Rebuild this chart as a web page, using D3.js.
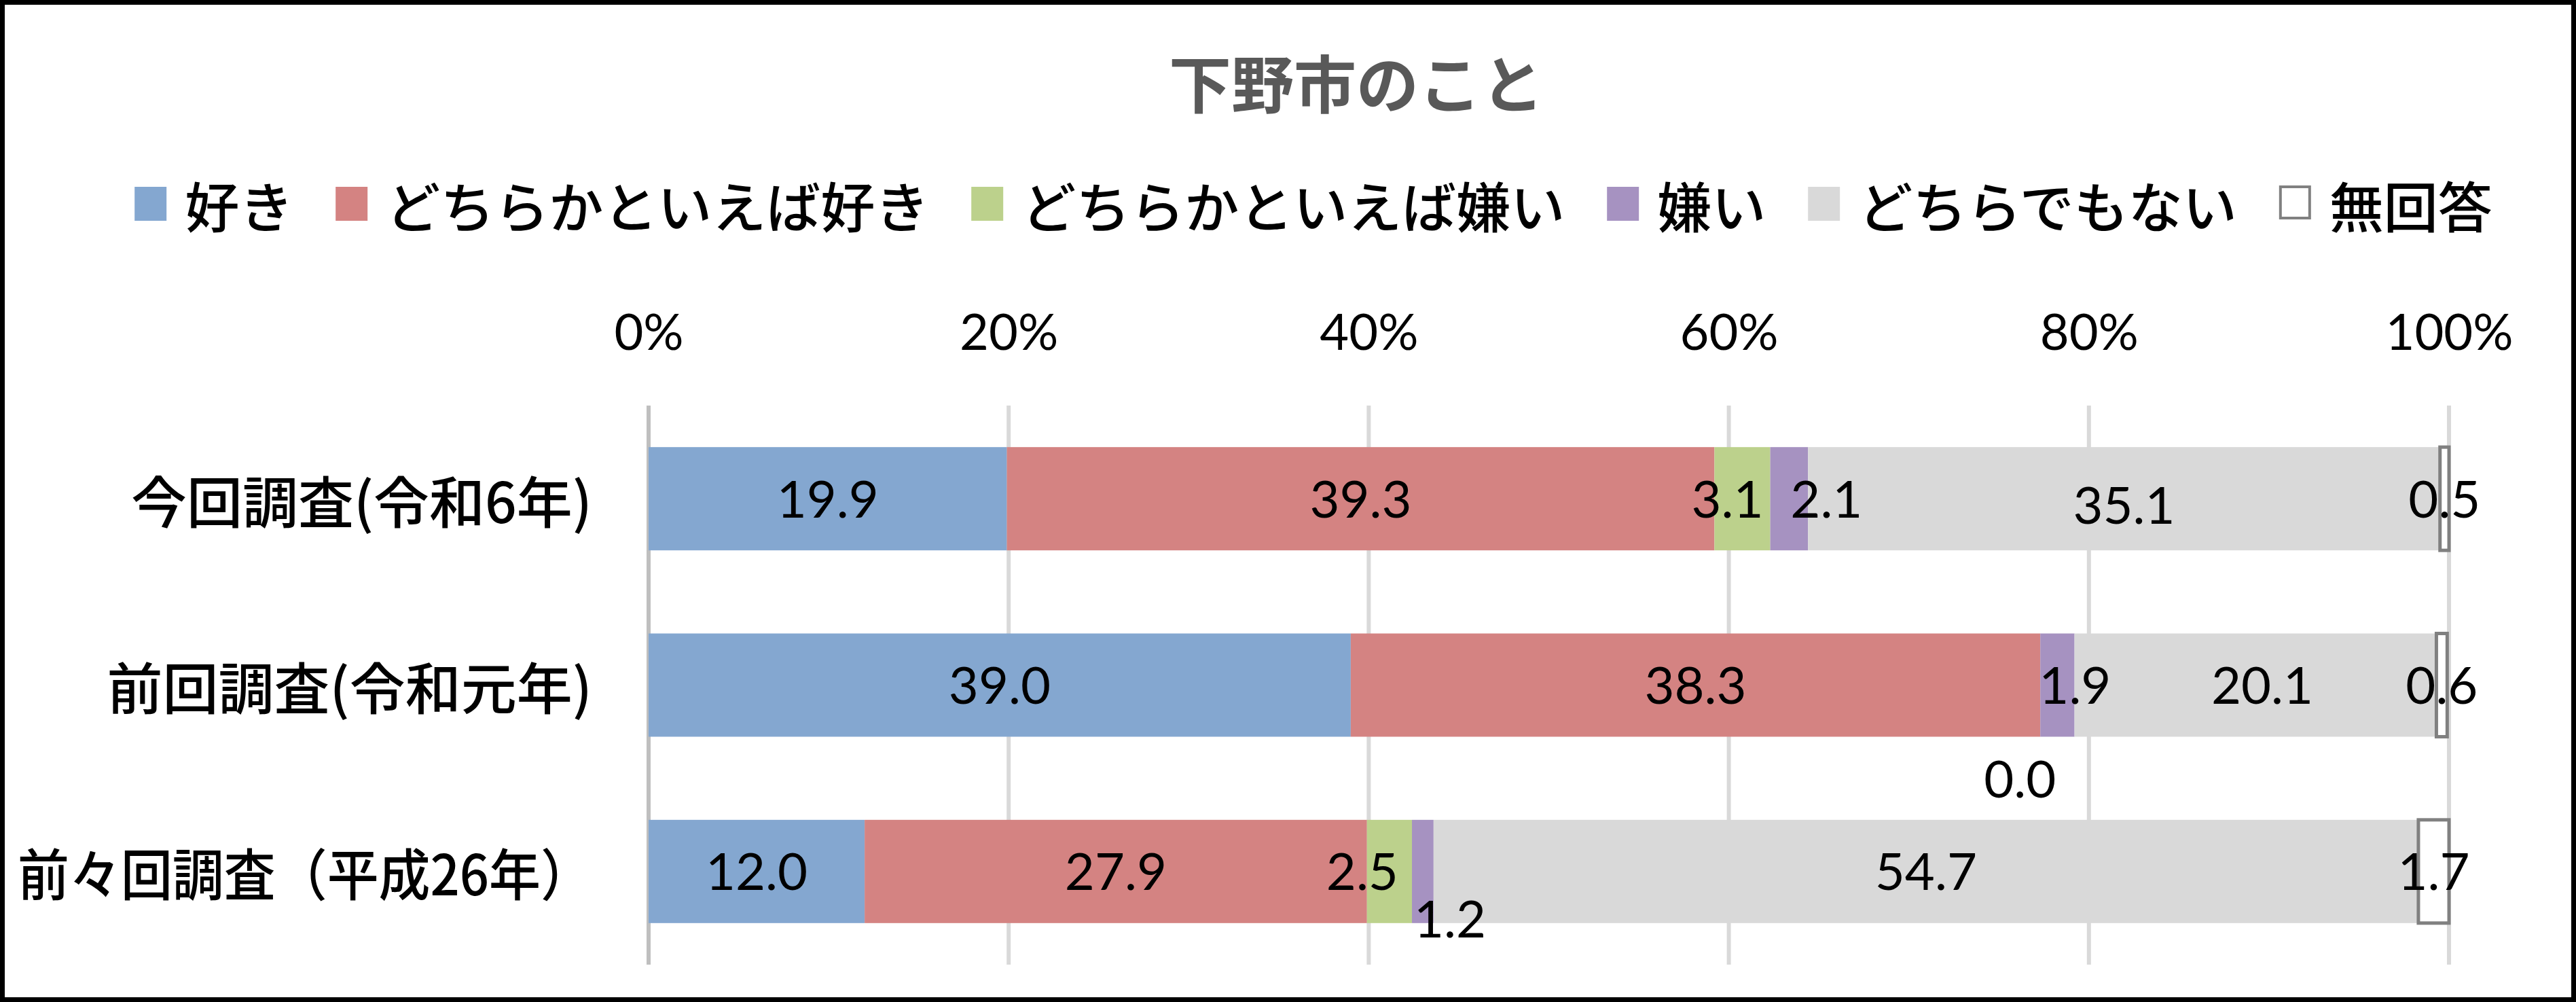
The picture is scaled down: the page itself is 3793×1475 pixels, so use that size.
<!DOCTYPE html>
<html>
<head>
<meta charset="utf-8">
<script src="https://cdn.jsdelivr.net/npm/d3@7"></script>
<style>
  html, body { margin: 0; padding: 0; background: #fff; }
  svg { display: block; }
</style>
</head>
<body>
<div id="chart"></div>
<script>
// 데이터
const categories = ['今回調査(令和6年)', '前回調査(令和元年)', '前々回調査（平成26年）'];
const seriesNames = ['好き', 'どちらかといえば好き', 'どちらかといえば嫌い', '嫌い', 'どちらでもない', '無回答'];
const suki       = [19.9, 39.0, 12.0];
const yaYaSuki   = [39.3, 38.3, 27.9];
const yaYaKirai  = [3.1, 0.0, 2.5];
const kirai      = [2.1, 1.9, 1.2];
const dochiraMo  = [35.1, 20.1, 54.7];
const muKaitou   = [0.5, 0.6, 1.7];
const xTicks = [0, 20, 40, 60, 80, 100];

const W = 3793, H = 1475;
const colors = ['#84a7d0', '#d48382', '#bcd18c', '#a692c1', '#d9d9d9', '#ffffff'];
const numFont = 'Lato, "Noto Sans", sans-serif';
const jpFont = '"Noto Sans CJK JP", sans-serif';

// 라벨 위치 미세조정 (원본 차트에서 수동으로 옮긴 것)
const labelNudge = {
  '0-2': [-22, 0], '0-3': [55, 0], '0-4': [0, 9],
  '1-2': [-30, 138], '1-3': [26, 0], '1-4': [10, 0],
  '2-2': [-40, 0], '2-3': [40, 70]
};

const svg = d3.select('#chart').append('svg')
  .attr('width', W).attr('height', H);

svg.append('rect').attr('width', W).attr('height', H).attr('fill', '#fff');

const x = d3.scaleLinear().domain([0, 100]).range([955, 3606]);
const y = d3.scaleBand().domain(categories).range([597, 1420])
  .paddingInner(0.446).paddingOuter(0.223);

const table = categories.map((c, i) => {
  const row = { cat: c };
  [suki, yaYaSuki, yaYaKirai, kirai, dochiraMo, muKaitou].forEach((arr, k) => { row[seriesNames[k]] = arr[i]; });
  return row;
});
const stacked = d3.stack().keys(seriesNames)(table);

// title
svg.append('text')
  .attr('x', 1997).attr('y', 118)
  .attr('text-anchor', 'middle').attr('dominant-baseline', 'central')
  .style('font-family', jpFont).style('font-size', '92px').style('font-weight', 700)
  .style('fill', '#595959')
  .text('下野市のこと');

// legend
const legend = svg.append('g');
let lx = 0;
seriesNames.forEach((name, k) => {
  const g = legend.append('g').attr('transform', `translate(${lx},0)`);
  g.append('rect')
    .attr('x', k === 5 ? 2 : 0).attr('y', -25)
    .attr('width', k === 5 ? 43 : 47).attr('height', k === 5 ? 46 : 50)
    .attr('fill', colors[k])
    .attr('stroke', k === 5 ? '#808080' : 'none').attr('stroke-width', 4);
  const t = g.append('text')
    .attr('x', 74).attr('y', 0)
    .attr('dominant-baseline', 'central')
    .style('font-family', jpFont).style('font-size', '80px').style('font-weight', 500)
    .style('fill', '#000')
    .text(name);
  lx += 74 + t.node().getComputedTextLength() + 62;
});
const legendWidth = lx - 62;
legend.attr('transform', `translate(${1934 - legendWidth / 2},300)`);

// gridlines
svg.append('g').selectAll('line')
  .data(xTicks)
  .join('line')
  .attr('x1', d => x(d)).attr('x2', d => x(d))
  .attr('y1', 597).attr('y2', 1420)
  .attr('stroke', d => d === 0 ? '#bfbfbf' : '#d9d9d9')
  .attr('stroke-width', 6);

// x axis (top)
const xAxis = svg.append('g')
  .attr('transform', 'translate(0,489)')
  .call(d3.axisTop(x).tickValues(xTicks).tickFormat(d => d + '%').tickSize(0).tickPadding(0));
xAxis.select('.domain').remove();
xAxis.selectAll('text')
  .attr('dy', '0.35em')
  .style('font-family', numFont).style('font-size', '74px')
  .style('fill', '#000');

// category axis
const yAxis = svg.append('g')
  .attr('transform', 'translate(872,0)')
  .call(d3.axisLeft(y).tickSize(0).tickPadding(0));
yAxis.select('.domain').remove();
yAxis.selectAll('text')
  .attr('dy', null)
  .attr('dominant-baseline', 'central')
  .style('font-family', jpFont).style('font-size', '82px').style('font-weight', 500)
  .style('fill', '#000')
  .each(function() {
    // 너무 긴 라벨은 왼쪽 테두리 안으로 들어오게 줄이기
    if (this.getComputedTextLength() > 846) {
      d3.select(this).attr('textLength', 846).attr('lengthAdjust', 'spacingAndGlyphs');
    }
  });

// bars
const layers = svg.append('g').selectAll('g')
  .data(stacked)
  .join('g')
  .attr('fill', (d, k) => colors[k]);

layers.selectAll('rect')
  .data(d => d.map(v => Object.assign(v, { key: d.key, k: d.index })))
  .join('rect')
  .attr('x', d => x(d[0]))
  .attr('y', d => y(d.data.cat))
  .attr('width', d => Math.max(0, x(d[1]) - x(d[0])))
  .attr('height', y.bandwidth())
  .attr('stroke', d => d.k === 5 ? '#808080' : 'none')
  .attr('stroke-width', 5);

// data labels
const labels = svg.append('g');
stacked.forEach((layer, k) => {
  layer.forEach((d, i) => {
    const n = labelNudge[`${i}-${k}`] || [0, 0];
    labels.append('text')
      .attr('x', (x(d[0]) + x(d[1])) / 2 + n[0])
      .attr('y', y(categories[i]) + y.bandwidth() / 2 + n[1])
      .attr('text-anchor', 'middle').attr('dy', '0.36em')
      .style('font-family', numFont).style('font-size', '76px')
      .style('fill', '#000')
      .text(d3.format('.1f')(d[1] - d[0]));
  });
});

// chart border
svg.append('rect')
  .attr('x', 3.5).attr('y', 3.5).attr('width', W - 7).attr('height', H - 7)
  .attr('fill', 'none').attr('stroke', '#000').attr('stroke-width', 7);
</script>
</body>
</html>
